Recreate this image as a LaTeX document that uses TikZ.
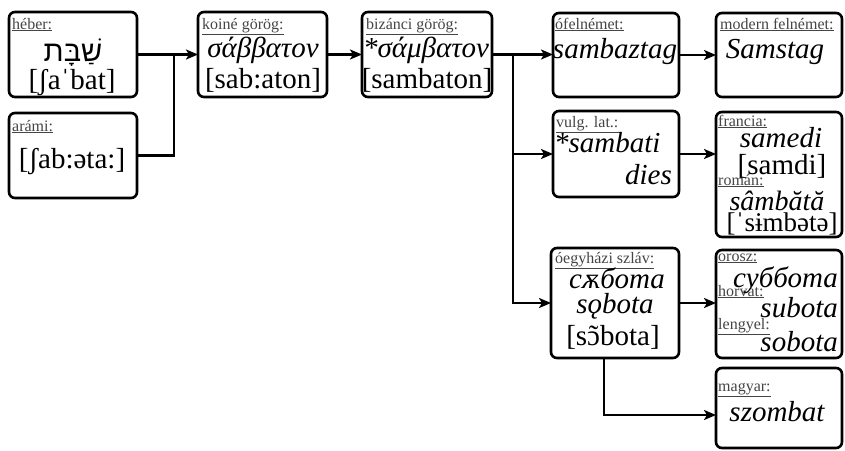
\documentclass[tikz,border=0pt]{standalone}
\usepackage{fontspec}
\setmainfont{Liberation Serif}
\newfontfamily\hebfont[Script=Hebrew]{Liberation Sans}
\TeXXeTstate=1
\usetikzlibrary{arrows.meta}
\definecolor{labelgray}{HTML}{454545}
\newcommand\lbltext[1]{\underline{#1}}
% open o with a tilde set above it
\newcommand\otilde{\ooalign{ɔ\cr\hidewidth ˜\hidewidth\cr}}

\begin{document}
\begin{tikzpicture}[x=1pt,y=-1pt,
  box/.style={draw, line width=2.6pt, rounded corners=6pt, anchor=north west,
              inner sep=0pt, outer sep=0pt},
  lbl/.style={anchor=base west, inner sep=0pt, text=labelgray,
              font=\fontsize{16}{16}\selectfont},
  word/.style={anchor=base, inner sep=0pt, font=\fontsize{29}{29}\selectfont\itshape},
  ipa/.style={anchor=base, inner sep=0pt, font=\fontsize{29}{29}\selectfont},
  link/.style={line width=2.8pt},
  conn/.style={link, -{Stealth[length=12pt,width=10pt,inset=3pt]}}
]
\fill[white] (0,0) rectangle (845,450);
\useasboundingbox (0,0) rectangle (845,450);

% boxes
\node[box, minimum width=128pt, minimum height=85pt]  (heb) at (9,12)    {};
\node[box, minimum width=128pt, minimum height=85pt]  (ar)  at (9,113)   {};
\node[box, minimum width=129pt, minimum height=85pt]  (koi) at (198,12)  {};
\node[box, minimum width=130pt, minimum height=85pt]  (biz) at (362,12)  {};
\node[box, minimum width=126pt, minimum height=84pt]  (ofn) at (553,13)  {};
\node[box, minimum width=126pt, minimum height=84pt]  (mod) at (716,13)  {};
\node[box, minimum width=126pt, minimum height=86pt]  (vl)  at (553,111) {};
\node[box, minimum width=126pt, minimum height=125pt] (fr)  at (716,112) {};
\node[box, minimum width=128pt, minimum height=110pt] (osl) at (551,248) {};
\node[box, minimum width=126pt, minimum height=108pt] (ru)  at (716,250) {};
\node[box, minimum width=126pt, minimum height=80pt]  (hu)  at (716,368) {};

% labels
\node[lbl] (hebl) at (12,29)   {\lbltext{héber:}};
\node[lbl] (arl)  at (12,131)  {\lbltext{arámi:}};
\node[lbl] (koil) at (202,29)  {\lbltext{koiné görög:}};
\node[lbl] (bizl) at (366,29)  {\lbltext{bizánci görög:}};
\node[lbl] (ofnl) at (555,29)  {\lbltext{ófelnémet:}};
\node[lbl] (modl) at (720,29)  {\lbltext{modern felnémet:}};
\node[lbl] (vll)  at (556,127) {\lbltext{vulg. lat.:}};
\node[lbl] (frl)  at (718,126) {\lbltext{francia:}};
\node[lbl] (rol)  at (718,185) {\lbltext{román:}};
\node[lbl] (osll) at (555,263) {\lbltext{óegyházi szláv:}};
\node[lbl] (rul)  at (718,261) {\lbltext{orosz:}};
\node[lbl] (hrl)  at (718,296) {\lbltext{horvát:}};
\node[lbl] (pll)  at (718,329) {\lbltext{lengyel:}};
\node[lbl] (hul)  at (718,391) {\lbltext{magyar:}};

% forms
\node[anchor=base, inner sep=0pt, font=\hebfont\fontsize{29}{29}\selectfont]
      (hebw) at (73,61) {\beginR שַׁבָּת\endR};
\node[ipa]  (hebi) at (72,89)   {[ʃaˈbat]};
\node[ipa]  (ari)  at (72,168)  {[ʃab:əta:]};
\node[word] (koiw) at (263,57)  {σάββατον};
\node[ipa]  (koii) at (263,88)  {[sab:aton]};
\node[word] (bizw) at (426,57)  {*σάμβατον};
\node[ipa]  (bizi) at (427,88)  {[sambaton]};
\node[word] (ofnw) at (615,58)  {sambaztag};
\node[word] (modw) at (775,58)  {Samstag};
\node[word, anchor=base west] (vlw1) at (554,152) {*sambati};
\node[word, anchor=base east] (vlw2) at (672,184) {dies};
\node[word] (frw)  at (781,147) {samedi};
\node[ipa]  (fri)  at (782,174) {[samdi]};
\node[word, font=\fontsize{28}{28}\selectfont\itshape] (row) at (777,210) {sâmbătă};
\node[ipa, font=\fontsize{27}{27}\selectfont]          (roi) at (782,231) {[ˈsɨmbətə]};
\node[word] (oslw1) at (617,288) {сѫбота};
\node[word] (oslw2) at (615,313) {sǫbota};
\node[ipa]  (osli)  at (613,345) {[s\otilde bota]};
\node[word, anchor=base east] (ruw) at (838,287) {суббота};
\node[word, anchor=base east] (hrw) at (838,317) {subota};
\node[word, anchor=base east] (plw) at (838,351) {sobota};
\node[word] (huw) at (777,421) {szombat};

% connectors
\coordinate (j1) at (174,0);
\coordinate (j2) at (513,0);
\coordinate (j3) at (604,415);
\draw[conn] (heb.east) -- (koi.west);
\draw[link] (ar.east) -| (j1 |- heb.east);
\draw[conn] (koi.east) -- (biz.west);
\draw[conn] (biz.east) -- (biz.east -| ofn.west);
\draw[conn] (j2 |- biz.east) |- (vl.west);
\draw[conn] (j2 |- biz.east) |- (osl.west);
\draw[conn] (ofn.east) -- (ofn.east -| mod.west);
\draw[conn] (vl.east) -- (vl.east -| fr.west);
\draw[conn] (osl.east) -- (osl.east -| ru.west);
\draw[conn] (osl.south -| j3) -- (j3) -- (j3 -| hu.west);
\end{tikzpicture}
\end{document}
